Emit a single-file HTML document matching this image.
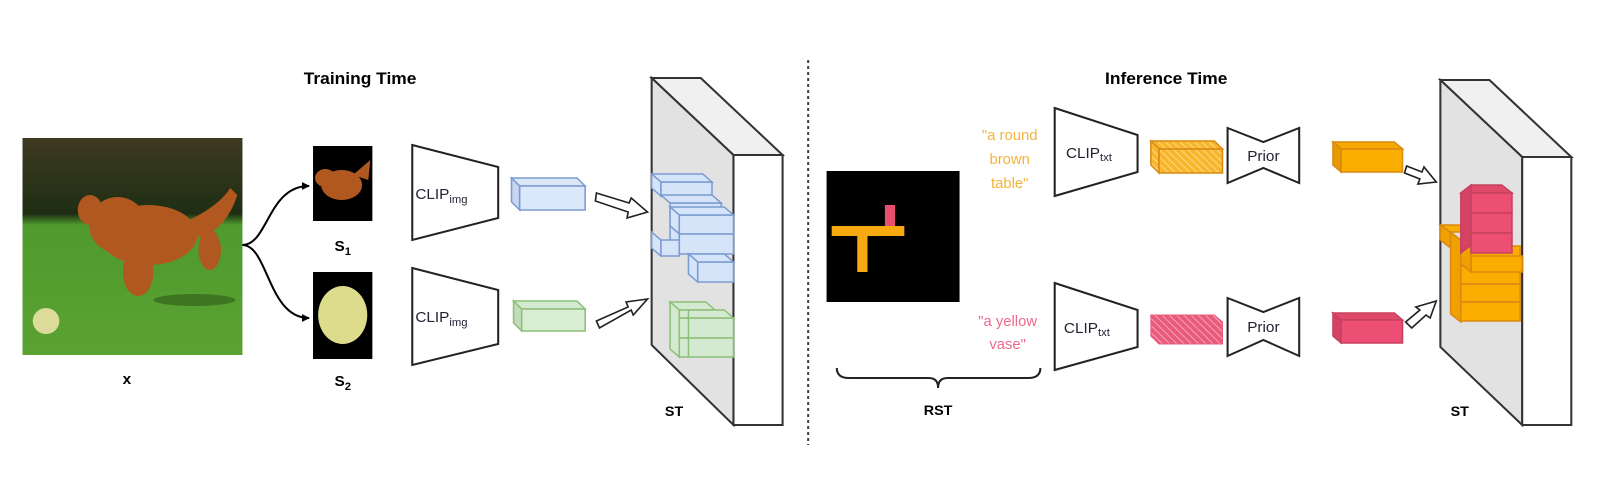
<!DOCTYPE html>
<html><head><meta charset="utf-8"><style>
html,body{margin:0;padding:0;background:#fff;}
svg{display:block;}
text{font-family:"Liberation Sans",Arial,sans-serif;}
</style></head><body>
<svg width="1602" height="492" viewBox="0 0 1566 492" preserveAspectRatio="none" xmlns="http://www.w3.org/2000/svg">
<defs>
<linearGradient id="bg" x1="0" y1="0" x2="0" y2="1">
<stop offset="0" stop-color="#3e3a20"/><stop offset="0.35" stop-color="#1e2e14"/><stop offset="0.4" stop-color="#4f9a2e"/><stop offset="1" stop-color="#5aa232"/>
</linearGradient>
<pattern id="hO" width="5" height="5" patternUnits="userSpaceOnUse" patternTransform="rotate(-45)"><rect width="5" height="5" fill="#f8b62c"/><line x1="0" y1="0" x2="0" y2="5" stroke="#fde3a0" stroke-width="1.5"/></pattern>
<pattern id="hP" width="5" height="5" patternUnits="userSpaceOnUse" patternTransform="rotate(-45)"><rect width="5" height="5" fill="#ea5a7c"/><line x1="0" y1="0" x2="0" y2="5" stroke="#f8b8c8" stroke-width="1.5"/></pattern>
<marker id="ar" markerWidth="8" markerHeight="8" refX="7" refY="4" orient="auto" markerUnits="userSpaceOnUse"><path d="M0,0 L8,4 L0,8 Z" fill="#000"/></marker>
</defs>

<text x="352" y="84" font-size="17" font-weight="bold" text-anchor="middle">Training Time</text>
<text x="1140" y="84" font-size="17" font-weight="bold" text-anchor="middle">Inference Time</text>
<line x1="790" y1="60" x2="790" y2="445" stroke="#444" stroke-width="2" stroke-dasharray="3,3"/>

<!-- photo -->
<rect x="22" y="138" width="215" height="217" fill="url(#bg)"/>
<ellipse cx="190" cy="300" rx="40" ry="6" fill="#2e5a18" opacity="0.6"/>
<g fill="#b0581f">
<ellipse cx="145" cy="235" rx="48" ry="30"/>
<ellipse cx="115" cy="225" rx="28" ry="28"/>
<ellipse cx="88" cy="210" rx="12" ry="15"/>
<ellipse cx="135" cy="272" rx="15" ry="24"/>
<ellipse cx="205" cy="250" rx="11" ry="20"/>
<path d="M185,220 Q215,205 225,188 L232,195 Q222,228 195,238 Z"/>
</g>
<circle cx="45" cy="321" r="13" fill="#dcdc9a"/>
<text x="124" y="384" font-size="15" font-weight="bold" text-anchor="middle">x</text>

<!-- connectors -->
<path d="M237,245 C262,245 262,186 302,186" fill="none" stroke="#000" stroke-width="2" marker-end="url(#ar)"/>
<path d="M237,245 C262,245 262,318 302,318" fill="none" stroke="#000" stroke-width="2" marker-end="url(#ar)"/>

<!-- S1 S2 -->
<rect x="306" y="146" width="58" height="75" fill="#000"/>
<g fill="#b0581f"><ellipse cx="334" cy="185" rx="20" ry="15"/><ellipse cx="318" cy="178" rx="10" ry="9"/><path d="M345,175 L362,160 L360,180 Z"/></g>
<text x="327" y="251" font-size="15" font-weight="bold">S<tspan font-size="11" dy="4">1</tspan></text>
<rect x="306" y="272" width="58" height="87" fill="#000"/>
<ellipse cx="335" cy="315" rx="24" ry="29" fill="#dcdc8c"/>
<text x="327" y="386" font-size="15" font-weight="bold">S<tspan font-size="11" dy="4">2</tspan></text>

<!-- CLIP img -->
<polygon points="403,145 487,167 487,218 403,240" fill="#fff" stroke="#222" stroke-width="2"/>
<text x="406" y="199" font-size="15" fill="#223">CLIP<tspan font-size="11" dy="4">img</tspan></text>
<polygon points="403,268 487,290 487,344 403,365" fill="#fff" stroke="#222" stroke-width="2"/>
<text x="406" y="322" font-size="15" fill="#223">CLIP<tspan font-size="11" dy="4">img</tspan></text>

<!-- small boxes -->
<g stroke="#7a9bd0" stroke-width="1.5">
<polygon points="508,186 572,186 564,178 500,178" fill="#dbe6f7"/>
<polygon points="508,186 500,178 500,202 508,210" fill="#c8d6ee"/>
<rect x="508" y="186" width="64" height="24" fill="#dbe8fb"/>
</g>
<g stroke="#8cbf78" stroke-width="1.5">
<polygon points="510,309 572,309 564,301 502,301" fill="#d4ead0"/>
<polygon points="510,309 502,301 502,323 510,331" fill="#c2dcba"/>
<rect x="510" y="309" width="62" height="22" fill="#d8edd2"/>
</g>

<!-- hollow arrows -->
<g fill="#fff" stroke="#222" stroke-width="1.6">
<polygon points="583,193 615,203 617,198 633,212 613,218 614,212 582,201" />
<polygon points="583,321 614,307 612,302 633,299 619,315 617,310 586,328"/>
<polygon points="1375,166 1390,172 1392,167 1404,182 1386,184 1388,179 1373,173"/>
<polygon points="1374,322 1388,310 1384,307 1404,301 1398,318 1394,315 1380,328"/>
</g>

<!-- slab 1 -->
<polygon points="637,78 685,78 765,155 717,155" fill="#f0f0f0" stroke="#333" stroke-width="2"/>
<polygon points="637,78 717,155 717,425 637,345" fill="#e2e2e2" stroke="#333" stroke-width="2"/>
<rect x="717" y="155" width="48" height="270" fill="#fff" stroke="#333" stroke-width="2"/>
<g stroke="#7a9bd0" stroke-width="1.5" fill="#d6e4fa">
<rect x="646" y="182" width="50" height="14"/><polygon points="637,174 687,174 696,182 646,182"/><polygon points="637,174 646,182 646,196 637,188"/>
<rect x="655" y="203" width="50" height="14"/><polygon points="646,195 696,195 705,203 655,203"/>
<rect x="664" y="215" width="53" height="19"/><polygon points="655,207 708,207 717,215 664,215"/><polygon points="655,207 664,215 664,234 655,226"/>
<rect x="664" y="234" width="53" height="20"/><polygon points="655,226 664,234 664,254 655,246"/>
<rect x="646" y="240" width="18" height="16"/><polygon points="637,232 646,240 646,256 637,248"/>
<rect x="682" y="262" width="35" height="20"/><polygon points="673,254 708,254 717,262 682,262"/><polygon points="673,254 682,262 682,282 673,274"/>
</g>
<g stroke="#8cbf78" stroke-width="1.5" fill="#d4ead0">
<polygon points="655,302 690,302 699,310 664,310"/>
<rect x="664" y="318" width="53" height="20"/><polygon points="664,310 708,310 717,318 664,318"/>
<rect x="664" y="338" width="53" height="19"/>
<polygon points="655,302 664,310 664,357 655,349"/>
<line x1="673" y1="310" x2="673" y2="357"/>
</g>
<text x="650" y="416" font-size="14" font-weight="bold">ST</text>

<!-- RST -->
<rect x="808" y="171" width="130" height="131" fill="#000"/>
<rect x="813" y="226" width="71" height="10" fill="#f7aa10"/>
<rect x="838" y="226" width="10" height="46" fill="#f7aa10"/>
<rect x="865" y="205" width="10" height="21" fill="#e6506e"/>
<path d="M818,368 Q818,378 830,378 L908,378 Q917,378 917,388 Q917,378 926,378 L1005,378 Q1017,378 1017,368" fill="none" stroke="#222" stroke-width="2"/>
<text x="917" y="415" font-size="14" font-weight="bold" text-anchor="middle">RST</text>

<g font-size="14.5" fill="#f5b23a" text-anchor="middle">
<text x="987" y="140">"a round</text><text x="987" y="164">brown</text><text x="987" y="188">table"</text>
</g>
<g font-size="14.5" fill="#ee6a8c" text-anchor="middle">
<text x="985" y="326">"a yellow</text><text x="985" y="349">vase"</text>
</g>

<!-- CLIP txt -->
<polygon points="1031,108 1112,135 1112,172 1031,196" fill="#fff" stroke="#222" stroke-width="2"/>
<text x="1042" y="158" font-size="15" fill="#223">CLIP<tspan font-size="11" dy="3">txt</tspan></text>
<polygon points="1031,283 1112,310 1112,347 1031,370" fill="#fff" stroke="#222" stroke-width="2"/>
<text x="1040" y="333" font-size="15" fill="#223">CLIP<tspan font-size="11" dy="3">txt</tspan></text>

<!-- hatched boxes -->
<g stroke="#d98a10" stroke-width="1.5" fill="url(#hO)">
<polygon points="1133,149 1195,149 1187,141 1125,141"/>
<polygon points="1133,149 1125,141 1125,165 1133,173"/>
<rect x="1133" y="149" width="62" height="24"/>
</g>
<g stroke="#ea5a7c" stroke-width="1" fill="url(#hP)">
<polygon points="1125,315 1187,315 1195,322 1195,344 1133,344 1125,336"/>
</g>

<!-- Prior -->
<polygon points="1200,128 1235,142 1270,128 1270,183 1235,168 1200,183" fill="#fff" stroke="#222" stroke-width="2"/>
<text x="1235" y="161" font-size="15" fill="#223" text-anchor="middle">Prior</text>
<polygon points="1200,298 1235,312 1270,298 1270,356 1235,340 1200,356" fill="#fff" stroke="#222" stroke-width="2"/>
<text x="1235" y="332" font-size="15" fill="#223" text-anchor="middle">Prior</text>

<!-- solid boxes -->
<g stroke="#d98a10" stroke-width="1.5">
<polygon points="1311,149 1371,149 1363,142 1303,142" fill="#f5a800"/>
<polygon points="1311,149 1303,142 1303,165 1311,172" fill="#e69a00"/>
<rect x="1311" y="149" width="60" height="23" fill="#fbae00"/>
</g>
<g stroke="#c84060" stroke-width="1.5">
<polygon points="1311,320 1371,320 1363,313 1303,313" fill="#e04a6a"/>
<polygon points="1311,320 1303,313 1303,336 1311,343" fill="#d44264"/>
<rect x="1311" y="320" width="60" height="23" fill="#ec4f73"/>
</g>

<!-- slab 2 -->
<polygon points="1408,80 1456,80 1536,157 1488,157" fill="#f0f0f0" stroke="#333" stroke-width="2"/>
<polygon points="1408,80 1488,157 1488,425 1408,347" fill="#e2e2e2" stroke="#333" stroke-width="2"/>
<rect x="1488" y="157" width="48" height="268" fill="#fff" stroke="#333" stroke-width="2"/>
<g stroke="#d98a10" stroke-width="1.5" fill="#fbae00">
<polygon points="1408,225 1418,232 1418,248 1408,240" fill="#f0a000"/>
<polygon points="1408,225 1440,225 1450,232 1418,232"/>
<polygon points="1418,232 1428,240 1428,322 1418,314" fill="#f0a000"/>
<rect x="1428" y="246" width="58" height="20"/>
<rect x="1428" y="266" width="58" height="18"/>
<rect x="1428" y="284" width="58" height="18"/>
<rect x="1428" y="302" width="58" height="19"/>
<rect x="1438" y="256" width="50" height="16"/>
<polygon points="1428,240 1438,248 1438,272 1428,264" fill="#f0a000"/>
</g>
<g stroke="#c84060" stroke-width="1.5" fill="#ec4f73">
<polygon points="1428,193 1438,185 1468,185 1478,193" fill="#e04a6a"/>
<polygon points="1428,193 1438,185 1438,245 1428,253" fill="#d44264"/>
<rect x="1438" y="193" width="40" height="20"/>
<rect x="1438" y="213" width="40" height="20"/>
<rect x="1438" y="233" width="40" height="20"/>
</g>
<text x="1418" y="416" font-size="14" font-weight="bold">ST</text>
</svg>
</body></html>
